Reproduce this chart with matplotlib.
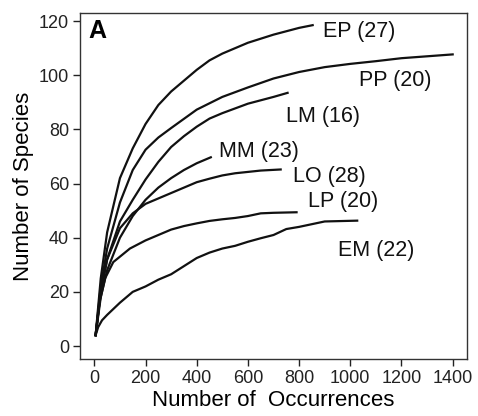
import numpy as np
import matplotlib.pyplot as plt

plt.rcParams['font.family'] = ['Liberation Sans', 'DejaVu Sans']

# rarefaction curves (occurrences, species)
ep_x = [5, 25, 50, 100, 150, 200, 250, 300, 350, 400, 450, 500, 600, 700, 800, 853]
ep_y = [4, 25, 42, 62, 73, 82, 89, 94, 98, 102, 105.5, 108, 112, 115, 117.5, 118.5]

pp_x = [5, 25, 50, 100, 150, 200, 250, 300, 400, 500, 600, 700, 800, 900, 1000, 1100, 1200, 1300, 1400]
pp_y = [4, 22, 36, 53, 65, 72.5, 77, 80.5, 87.3, 92, 95.5, 98.8, 101.2, 103, 104.2, 105.2, 106.3, 107, 107.7]

lm_x = [5, 25, 50, 100, 150, 200, 250, 300, 350, 400, 450, 500, 600, 700, 755]
lm_y = [4, 20, 32, 46, 54, 61.5, 68, 73.5, 77.5, 81, 84, 86, 89.5, 92, 93.5]

mm_x = [5, 25, 50, 100, 150, 200, 250, 300, 350, 400, 455]
mm_y = [4, 18, 28, 40, 48, 54, 58.5, 62, 65, 67.5, 69.7]

lo_x = [5, 25, 50, 100, 150, 200, 250, 300, 350, 400, 450, 500, 550, 600, 650, 728]
lo_y = [4, 20, 32, 43.5, 49, 52.5, 54.5, 56.5, 58.5, 60.5, 61.8, 63, 63.8, 64.3, 64.8, 65.2]

lp_x = [5, 20, 42, 74, 100, 139, 200, 250, 300, 350, 400, 450, 500, 550, 600, 650, 700, 790]
lp_y = [4, 16, 25, 31, 33, 36, 39, 41, 43, 44.3, 45.3, 46.2, 46.8, 47.3, 48, 49, 49.2, 49.4]

em_x = [5, 15, 30, 50, 100, 150, 200, 250, 300, 350, 400, 450, 500, 550, 600, 650, 700, 750, 800, 850, 900, 1027]
em_y = [4, 7, 9.5, 11.5, 16, 20, 22, 24.5, 26.5, 29.5, 32.5, 34.5, 36, 37, 38.5, 39.8, 41, 43.2, 44, 45, 46, 46.3]

labels = ['EP (27)', 'PP (20)', 'LM (16)', 'MM (23)', 'LO (28)', 'LP (20)', 'EM (22)']
label_x = [892, 1035, 749, 488, 777, 836, 951]
label_y = [116, 97.9, 84.7, 71.9, 62.7, 53.2, 35.2]

curves = [(ep_x, ep_y), (pp_x, pp_y), (lm_x, lm_y), (mm_x, mm_y),
          (lo_x, lo_y), (lp_x, lp_y), (em_x, em_y)]

fig = plt.figure(figsize=(4.78, 4.16), dpi=100)
ax = fig.add_axes([0.1674, 0.137, 0.8096, 0.8318])

for (cx, cy) in curves:
    ax.plot(cx, cy, color='#111111', lw=1.6, solid_joinstyle='round')

for lab, lx, ly in zip(labels, label_x, label_y):
    ax.text(lx, ly, lab, fontsize=15.5, ha='left', va='center', color='#111111')

ax.text(0.022, 0.982, 'A', transform=ax.transAxes, fontsize=18, fontweight='bold',
        ha='left', va='top')

ax.set_xlim(-56, 1456)
ax.set_ylim(-4.8, 123)
ax.set_xticks(np.arange(0, 1401, 200))
ax.set_yticks(np.arange(0, 121, 20))
ax.tick_params(direction='out', length=5, width=1, labelsize=13, pad=3, colors='#222222')
for sp in ax.spines.values():
    sp.set_linewidth(1)
    sp.set_color('#333333')

ax.set_xlabel('Number of  Occurrences', fontsize=16)
ax.set_ylabel('Number of Species', fontsize=16)
ax.yaxis.set_label_coords(-0.118, 0.5)
ax.xaxis.set_label_coords(0.5, -0.09)

fig.savefig('out.png', dpi=100)
